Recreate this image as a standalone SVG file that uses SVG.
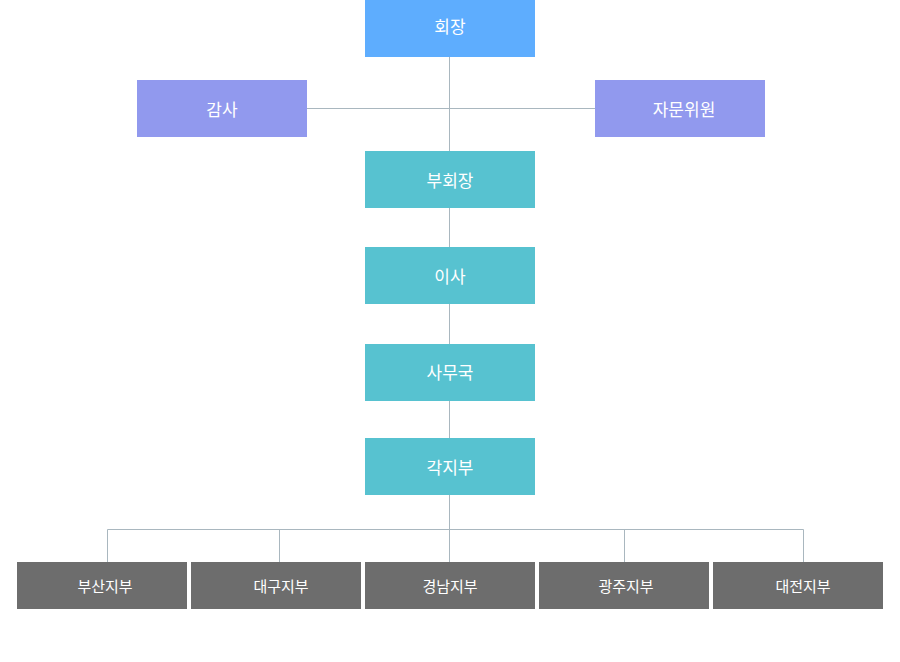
<svg xmlns="http://www.w3.org/2000/svg" width="900" height="662" viewBox="0 0 900 662">
<style>
.t{font-family:"Noto Sans CJK KR","Noto Sans",sans-serif;fill:#fff;text-anchor:middle;dominant-baseline:central}
.big{font-size:17px}
.sm{font-size:15px}
.ln{stroke:#a9b7bf;stroke-width:1;fill:none}
.blue{fill:#5eadfe}
.pur{fill:#9199ee}
.teal{fill:#57c2d0}
.gray{fill:#6d6d6d}
</style>
<rect width="900" height="662" fill="#fff"/>
<g id="connectors">
<path class="ln" d="M449.5 57V562M307 108.5H595M107.5 529.5H803.5M107.5 529.5V562M279.5 529.5V562M624.5 529.5V562M803.5 529.5V562"/>
</g>
<g id="n-chair"><rect class="blue" x="365" y="0" width="170" height="57"/><text class="t big" x="450" y="25">회장</text></g>
<g id="n-audit"><rect class="pur" x="137" y="80" width="170" height="57"/><text class="t big" x="222" y="108">감사</text></g>
<g id="n-advisor"><rect class="pur" x="595" y="80" width="170" height="57"/><text class="t big" x="684" y="108">자문위원</text></g>
<g id="n-vice"><rect class="teal" x="365" y="151" width="170" height="57"/><text class="t big" x="450" y="179">부회장</text></g>
<g id="n-director"><rect class="teal" x="365" y="247" width="170" height="57"/><text class="t big" x="450" y="275">이사</text></g>
<g id="n-office"><rect class="teal" x="365" y="344" width="170" height="57"/><text class="t big" x="450" y="371">사무국</text></g>
<g id="n-branches"><rect class="teal" x="365" y="438" width="170" height="57"/><text class="t big" x="450" y="466">각지부</text></g>
<g id="n-busan"><rect class="gray" x="17" y="562" width="170" height="47"/><text class="t sm" x="105" y="585">부산지부</text></g>
<g id="n-daegu"><rect class="gray" x="191" y="562" width="170" height="47"/><text class="t sm" x="281" y="585">대구지부</text></g>
<g id="n-gyeongnam"><rect class="gray" x="365" y="562" width="170" height="47"/><text class="t sm" x="450" y="585">경남지부</text></g>
<g id="n-gwangju"><rect class="gray" x="539" y="562" width="170" height="47"/><text class="t sm" x="626" y="585">광주지부</text></g>
<g id="n-daejeon"><rect class="gray" x="713" y="562" width="170" height="47"/><text class="t sm" x="803" y="585">대전지부</text></g>
</svg>
